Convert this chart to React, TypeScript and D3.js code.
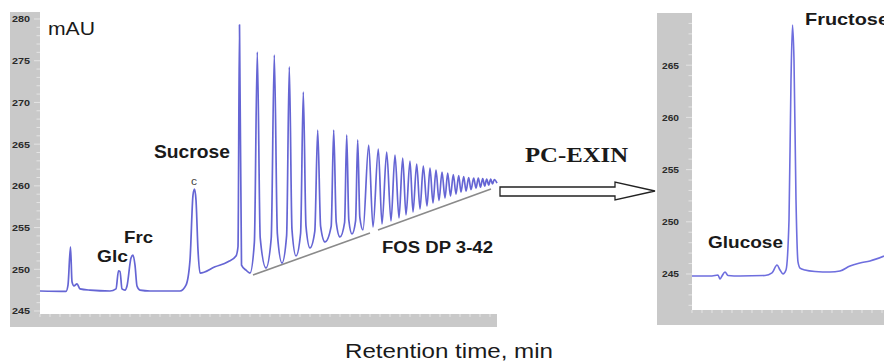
import React from 'react';
import * as d3 from 'd3';

// ---- Data ----
const leftTicks = [245, 250, 255, 260, 265, 270, 275, 280];
const rightTicks = [245, 250, 255, 260, 265];

// Left chromatogram: trace before the FOS series (time, mAU)
const preTimes = [0, 2.6, 2.8, 3.05, 3.2, 3.4, 3.7, 4.0, 5.0, 7.0, 7.6, 7.85, 8.0, 8.2, 8.5, 8.7, 9.1, 9.3, 9.5, 9.7, 10.0, 11.0, 14.0, 14.6, 15.0, 15.3, 15.45, 15.6, 15.8, 16.0, 17.5, 18.8, 19.6, 19.8, 19.95, 20.15, 20.6];
const preValues = [247.4, 247.35, 248.1, 252.7, 248.5, 248.0, 248.25, 247.65, 247.5, 247.4, 247.65, 249.8, 249.75, 247.65, 247.5, 248.0, 251.35, 251.7, 250.5, 248.0, 247.5, 247.4, 247.4, 248.1, 251.1, 258.9, 259.6, 258.3, 252.3, 249.55, 250.3, 250.9, 251.6, 252.7, 279.3, 250.5, 249.9];

// FOS DP 3-42 peaks
const fosApexTimes = [21.73, 23.43, 24.93, 26.33, 27.77, 29.37, 30.67, 31.77, 32.87, 33.83, 34.67, 35.5, 36.27, 37.0, 37.67, 38.33, 39.0, 39.6, 40.2, 40.77, 41.33, 41.87, 42.37, 42.87, 43.37, 43.83, 44.27, 44.67, 45.07, 45.43];
const fosApexValues = [276.04, 275.68, 274.25, 271.25, 266.69, 266.69, 266.1, 265.5, 264.9, 264.42, 264.06, 263.7, 263.34, 262.98, 262.62, 262.38, 262.14, 261.9, 261.66, 261.54, 261.36, 261.24, 261.12, 261.0, 260.94, 260.94, 260.88, 260.82, 260.82, 260.76];
const fosValleyTimes = [21.0, 22.6, 24.2, 25.6, 27.0, 28.5, 30.0, 31.2, 32.3, 33.3, 34.2, 35.1, 35.9, 36.6, 37.3, 38.0, 38.7, 39.3, 39.9, 40.5, 41.05, 41.6, 42.1, 42.6, 43.1, 43.6, 44.05, 44.47, 44.87, 45.25, 45.7];
const fosValleyValues = [249.55, 250.15, 250.75, 251.59, 252.55, 253.27, 253.87, 254.23, 254.71, 255.07, 255.43, 255.79, 256.15, 256.51, 256.87, 257.23, 257.59, 257.95, 258.24, 258.54, 258.78, 259.02, 259.26, 259.38, 259.56, 259.74, 259.86, 259.98, 260.1, 260.22, 260.34];

// Gray annotation line under the FOS series (two segments)
const annotTimes = [[21.3, 33.0], [33.8, 45.1]];
const annotValues = [[249.31, 254.35], [254.71, 259.62]];

// Right chromatogram (after PC-EXIN)
const rightTimes = [0, 2.0, 2.6, 2.8, 3.0, 3.3, 3.6, 4.8, 7.3, 8.0, 8.5, 8.8, 9.1, 9.4, 9.7, 9.9, 10.05, 10.2, 10.4, 10.6, 10.8, 11.3, 12.3, 13.8, 14.8, 15.8, 16.8, 17.8, 19.2];
const rightValues = [244.81, 244.81, 244.9, 244.52, 244.81, 245.19, 244.86, 244.81, 244.86, 245.1, 245.86, 245.38, 245.0, 245.38, 250.17, 263.58, 268.85, 265.5, 252.1, 246.15, 245.57, 245.38, 245.24, 245.19, 245.29, 245.77, 246.05, 246.25, 246.72];

const SANS = '"Liberation Sans", Arial, Helvetica, sans-serif';
const SERIF = '"Liberation Serif", "Times New Roman", serif';
const LINE = '#6565d4';
const FRAME = '#c9c9c9';

export default function App() {
  const xL = d3.scaleLinear().domain([0, 45.7]).range([40, 497]);
  const yL = d3.scaleLinear().domain([245, 280]).range([311, 19]);
  const xR = d3.scaleLinear().domain([0, 19.2]).range([692, 884]);
  const yR = d3.scaleLinear().domain([245, 265]).range([274, 65.2]);

  const leftPts: [number, number][] = preTimes.map((t, i) => [t, preValues[i]]);
  fosApexTimes.forEach((ta, i) => {
    const h = fosApexValues[i];
    const tl = fosValleyTimes[i], vl = fosValleyValues[i];
    const tr = fosValleyTimes[i + 1], vr = fosValleyValues[i + 1];
    if (i === 0) leftPts.push([tl, vl]);
    const half = Math.min(ta - tl, tr - ta);
    if (half > 0.45) {
      const d = 0.4 * half;
      leftPts.push([ta - d, vl + 0.14 * (h - vl)]);
      leftPts.push([ta, h]);
      leftPts.push([ta + d, vr + 0.14 * (h - vr)]);
    } else {
      leftPts.push([ta, h]);
    }
    leftPts.push([tr, vr]);
  });

  const lineL = d3.line<[number, number]>()
    .x(d => xL(d[0])).y(d => yL(d[1])).curve(d3.curveMonotoneX);
  const rightPts: [number, number][] = rightTimes.map((t, i) => [t, rightValues[i]]);
  const lineR = d3.line<[number, number]>()
    .x(d => xR(d[0])).y(d => yR(d[1])).curve(d3.curveMonotoneX);

  const minorL = d3.range(245, 281);
  const minorR = d3.range(242, 270);
  const xMinorL = d3.range(0, 46);
  const xMinorR = d3.range(0, 20);

  return (
    <svg width={884} height={362} style={{ position: 'fixed', left: 0, top: 0, background: '#fff' }}>
      {/* Left panel frame */}
      <rect x={10} y={12} width={30} height={315} fill={FRAME} />
      <rect x={10} y={314} width={487} height={13} fill={FRAME} />
      {minorL.map(v => (
        <line key={'ml' + v} x1={v % 5 === 0 ? 34 : 36.5} x2={40} y1={yL(v)} y2={yL(v)} stroke="#e4e4e4" strokeWidth={1} />
      ))}
      {xMinorL.map(t => (
        <line key={'xl' + t} x1={xL(t)} x2={xL(t)} y1={314} y2={317} stroke="#e4e4e4" strokeWidth={1} />
      ))}
      {leftTicks.map(v => (
        <text key={'tl' + v} x={30} y={yL(v) + 3.4} textAnchor="end" fontFamily={SANS} fontSize={9.5} fontWeight="bold"
          textLength={18} lengthAdjust="spacingAndGlyphs" fill="#2a2a2a">{v}</text>
      ))}

      {/* Right panel frame */}
      <rect x={657} y={13} width={35} height={312} fill={FRAME} />
      <rect x={657} y={310} width={227} height={15} fill={FRAME} />
      {minorR.map(v => (
        <line key={'mr' + v} x1={v % 5 === 0 ? 686 : 688.5} x2={692} y1={yR(v)} y2={yR(v)} stroke="#e4e4e4" strokeWidth={1} />
      ))}
      {xMinorR.map(t => (
        <line key={'xr' + t} x1={xR(t)} x2={xR(t)} y1={310} y2={313} stroke="#e4e4e4" strokeWidth={1} />
      ))}
      {rightTicks.map(v => (
        <text key={'tr' + v} x={679} y={yR(v) + 3.4} textAnchor="end" fontFamily={SANS} fontSize={9.5} fontWeight="bold"
          textLength={17} lengthAdjust="spacingAndGlyphs" fill="#2a2a2a">{v}</text>
      ))}

      {/* Annotation line */}
      {annotTimes.map((ts, i) => (
        <line key={'an' + i} x1={xL(ts[0])} x2={xL(ts[1])} y1={yL(annotValues[i][0])} y2={yL(annotValues[i][1])}
          stroke="#8a8a8a" strokeWidth={1.6} />
      ))}

      {/* Traces */}
      <path d={lineL(leftPts) || ''} fill="none" stroke={LINE} strokeWidth={1.7} strokeLinejoin="round" />
      <path d={lineR(rightPts) || ''} fill="none" stroke="#6e6ede" strokeWidth={1.6} strokeLinejoin="round" />

      {/* Arrow */}
      <path d="M500,187 L615,187 L615,182 L655,191 L615,200 L615,196 L500,196 Z" fill="#fff" stroke="#222" strokeWidth={1.3} />

      {/* Labels */}
      <text x={48} y={35} fontFamily={SANS} fontSize={18} textLength={47} lengthAdjust="spacingAndGlyphs" fill="#1a1a1a">mAU</text>
      <text x={154} y={158} fontFamily={SANS} fontSize={18} fontWeight="bold" textLength={76} lengthAdjust="spacingAndGlyphs" fill="#1a1a1a">Sucrose</text>
      <text x={191} y={185} fontFamily={SANS} fontSize={10} textLength={6} lengthAdjust="spacingAndGlyphs" fill="#444">c</text>
      <text x={97} y={262} fontFamily={SANS} fontSize={17} fontWeight="bold" textLength={31} lengthAdjust="spacingAndGlyphs" fill="#1a1a1a">Glc</text>
      <text x={124} y={243} fontFamily={SANS} fontSize={17} fontWeight="bold" textLength={29} lengthAdjust="spacingAndGlyphs" fill="#1a1a1a">Frc</text>
      <text x={382} y={253} fontFamily={SANS} fontSize={16} fontWeight="bold" textLength={111} lengthAdjust="spacingAndGlyphs" fill="#1a1a1a">FOS DP 3-42</text>
      <text x={525} y={162} fontFamily={SERIF} fontSize={22} fontWeight="bold" textLength={103} lengthAdjust="spacingAndGlyphs" fill="#1a1a1a">PC-EXIN</text>
      <text x={708} y={248} fontFamily={SANS} fontSize={17} fontWeight="bold" textLength={75} lengthAdjust="spacingAndGlyphs" fill="#1a1a1a">Glucose</text>
      <text x={805} y={25} fontFamily={SANS} fontSize={17} fontWeight="bold" textLength={84} lengthAdjust="spacingAndGlyphs" fill="#1a1a1a">Fructose</text>
      <text x={345} y={358} fontFamily={SANS} fontSize={20} textLength={208} lengthAdjust="spacingAndGlyphs" fill="#1a1a1a">Retention time, min</text>
    </svg>
  );
}
